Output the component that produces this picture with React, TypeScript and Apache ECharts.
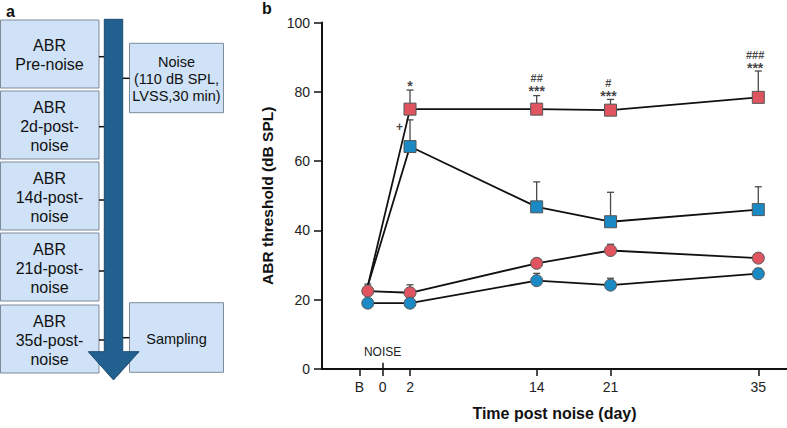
import React, { useEffect, useRef } from "react";
import * as echarts from "echarts";

// ---- data ----
const dayPositions = [-2, 2, 14, 21, 35]; // B plotted just before the noise day
const tickPositions = [-2.8, -0.6, 2, 14, 21, 35];
const tickLabels = ["B", "0", "2", "14", "21", "35"];
const noiseTickPos = -0.6;

const redCircle = [22.5, 22.0, 30.5, 34.2, 32.0];
const redCircleTop = [24.5, 24.3, 31.7, 36.0, 32.6];
const blueCircle = [19.0, 19.0, 25.5, 24.2, 27.5];
const blueCircleTop = [19.4, 19.4, 27.6, 26.2, 29.0];
const redSquare = [24.0, 75.0, 75.0, 74.7, 78.4];
const redSquareTop = [null, 80.5, 78.9, 77.8, 86.0];
const blueSquare = [24.0, 64.2, 46.8, 42.5, 46.0];
const blueSquareTop = [null, 71.9, 54.0, 51.0, 52.6];

// significance marks: x, y (centre of the mark block), hash line, star line
const annotationX = [2, 1.0, 14, 20.8, 34.7];
const annotationY = [81.8, 69.8, 81.95, 80.4, 88.5];
const annotationHash = ["", "", "##", "#", "###"];
const annotationStar = ["*", "+", "***", "***", "***"];

const FONT = '"Liberation Sans", Arial, Helvetica, sans-serif';
const RED = "#e0545f";
const BLUE = "#1b8ac4";

function buildLine(name: string, vals: number[], symbol: string, color: string) {
  return {
    name,
    type: "line",
    z: 3,
    symbol,
    symbolSize: 12,
    data: vals.map((v, i) => ({
      value: [dayPositions[i], v],
      symbolSize: symbol === "rect" && i === 0 ? 0 : 12,
    })),
    lineStyle: { color: "#111", width: 1.8 },
    itemStyle: { color, borderColor: "#555", borderWidth: 1 },
    emphasis: { disabled: true },
  };
}

function buildErr(vals: number[], tops: (number | null)[]) {
  const data: number[][] = [];
  vals.forEach((v, i) => {
    const t = tops[i];
    if (t !== null && t !== undefined) data.push([dayPositions[i], v, t]);
  });
  return {
    type: "custom",
    z: 2,
    silent: true,
    encode: { x: 0, y: [1, 2] },
    data,
    renderItem: (_p: any, api: any) => {
      const x = api.value(0);
      const p0 = api.coord([x, api.value(1)]);
      const p1 = api.coord([x, api.value(2)]);
      const st = { stroke: "#4a4a4a", lineWidth: 1.3 };
      return {
        type: "group",
        children: [
          { type: "line", shape: { x1: p0[0], y1: p0[1], x2: p1[0], y2: p1[1] }, style: st },
          { type: "line", shape: { x1: p1[0] - 3.5, y1: p1[1], x2: p1[0] + 3.5, y2: p1[1] }, style: st },
        ],
      };
    },
  };
}

function panelA(): any[] {
  const els: any[] = [];
  const boxFill = "#cfe2f7";
  const boxStroke = "#7d8b99";
  const boxes = [
    { y: 20, h: 68, t: "ABR\nPre-noise" },
    { y: 91, h: 68, t: "ABR\n2d-post-\nnoise" },
    { y: 162, h: 68, t: "ABR\n14d-post-\nnoise" },
    { y: 233, h: 68, t: "ABR\n21d-post-\nnoise" },
    { y: 305, h: 68, t: "ABR\n35d-post-\nnoise" },
  ];
  boxes.forEach((b) => {
    els.push({
      type: "rect",
      shape: { x: 0.5, y: b.y, width: 98.5, height: b.h },
      style: { fill: boxFill, stroke: boxStroke, lineWidth: 1 },
    });
    els.push({
      type: "text",
      style: {
        x: 49.5,
        y: b.y + b.h / 2 + 1,
        text: b.t,
        font: `16px ${FONT}`,
        fill: "#111",
        lineHeight: 19,
        textAlign: "center",
        textVerticalAlign: "middle",
        align: "center",
        verticalAlign: "middle",
      },
    });
  });
  const side = [
    { y: 43.3, h: 69.4, t: "Noise\n(110 dB SPL,\nLVSS,30 min)" },
    { y: 302.7, h: 69.6, t: "Sampling" },
  ];
  side.forEach((b) => {
    els.push({
      type: "rect",
      shape: { x: 129.5, y: b.y, width: 94, height: b.h },
      style: { fill: boxFill, stroke: boxStroke, lineWidth: 1 },
    });
    els.push({
      type: "text",
      style: {
        x: 176.5,
        y: b.y + b.h / 2 + 1,
        text: b.t,
        font: `14.5px ${FONT}`,
        fill: "#111",
        lineHeight: 17,
        textAlign: "center",
        textVerticalAlign: "middle",
        align: "center",
        verticalAlign: "middle",
      },
    });
  });
  [56.7, 126.7, 200, 271, 340].forEach((y) =>
    els.push({ type: "line", shape: { x1: 99, y1: y, x2: 105, y2: y }, style: { stroke: "#111", lineWidth: 1.5 } })
  );
  [78.3, 337.7].forEach((y) =>
    els.push({ type: "line", shape: { x1: 122, y1: y, x2: 129.5, y2: y }, style: { stroke: "#111", lineWidth: 1.5 } })
  );
  els.push({
    type: "polygon",
    z: 10,
    shape: {
      points: [
        [104.3, 19.3],
        [122.7, 19.3],
        [122.7, 351.7],
        [139, 351.7],
        [113.5, 380],
        [88.3, 351.7],
        [104.3, 351.7],
      ],
    },
    style: { fill: "#22608f", stroke: "#1a4b72", lineWidth: 1 },
  });
  els.push({ type: "text", style: { x: 6, y: 3, text: "a", font: `bold 16px ${FONT}`, fill: "#111" } });
  els.push({ type: "text", style: { x: 262, y: 0, text: "b", font: `bold 16px ${FONT}`, fill: "#111" } });
  return els;
}

export default function App() {
  const ref = useRef<HTMLDivElement>(null);
  useEffect(() => {
    if (!ref.current) return;
    const chart = echarts.init(ref.current, null, { renderer: "svg" });
    const labelFor = (v: number) => {
      let best = 0;
      tickPositions.forEach((t, i) => {
        if (Math.abs(t - v) < Math.abs(tickPositions[best] - v)) best = i;
      });
      return tickLabels[best];
    };
    const annData = annotationStar.map((s, i) => ({
      value: [annotationX[i], annotationY[i]],
      label: {
        formatter: annotationHash[i] ? `{h|${annotationHash[i]}}\n{s|${s}}` : s === "+" ? `{p|${s}}` : `{s|${s}}`,
      },
    }));
    const option: any = {
      animation: false,
      textStyle: { fontFamily: FONT },
      grid: { left: 322, right: 0, top: 22.5, bottom: 59, outerBoundsMode: "none", containLabel: false },
      xAxis: {
        type: "value",
        min: -6.34,
        max: 37.72,
        splitLine: { show: false },
        axisLine: { show: true, onZero: false, lineStyle: { color: "#111", width: 2 } },
        axisTick: { show: true, customValues: tickPositions, length: 7, lineStyle: { color: "#111", width: 1.5 } },
        axisLabel: {
          show: true,
          customValues: tickPositions,
          formatter: (v: number) => labelFor(v),
          fontSize: 14,
          color: "#222",
          margin: 11,
        },
        name: "Time post noise (day)",
        nameLocation: "middle",
        nameGap: 36,
        nameTextStyle: { fontSize: 16, fontWeight: "bold", color: "#111" },
      },
      yAxis: {
        type: "value",
        min: 0,
        max: 100,
        interval: 20,
        splitLine: { show: false },
        axisLine: { show: true, onZero: false, lineStyle: { color: "#111", width: 2 } },
        axisTick: { show: true, length: 8, lineStyle: { color: "#111", width: 1.5 } },
        axisLabel: { fontSize: 14, color: "#222", margin: 12 },
        name: "ABR threshold (dB SPL)",
        nameLocation: "middle",
        nameGap: 44,
        nameTextStyle: { fontSize: 15.5, fontWeight: "bold", color: "#111" },
      },
      graphic: panelA(),
      series: [
        buildErr(redCircle, redCircleTop),
        buildErr(blueCircle, blueCircleTop),
        buildErr(redSquare, redSquareTop),
        buildErr(blueSquare, blueSquareTop),
        buildLine("Noise circle", redCircle, "circle", RED),
        buildLine("Control circle", blueCircle, "circle", BLUE),
        buildLine("Noise square", redSquare, "rect", RED),
        buildLine("Control square", blueSquare, "rect", BLUE),
        {
          type: "scatter",
          z: 4,
          silent: true,
          symbolSize: 0,
          data: annData,
          label: {
            show: true,
            position: "inside",
            color: "#111",
            rich: {
              h: { fontSize: 11, fontWeight: "bold", lineHeight: 11, color: "#111", align: "center" },
              s: { fontSize: 14, fontWeight: "bold", lineHeight: 14, color: "#111", align: "center" },
              p: { fontSize: 12, fontWeight: "bold", lineHeight: 12, color: "#111", align: "center" },
            },
          },
          markLine: {
            silent: true,
            symbol: "none",
            lineStyle: { color: "#111", width: 1.5, type: "solid" },
            label: { show: true, position: "end", formatter: "NOISE", fontSize: 12, color: "#222", distance: 5 },
            data: [[{ coord: [noiseTickPos, 0] }, { coord: [noiseTickPos, 1.8] }]],
          },
        },
      ],
    };
    chart.setOption(option);
    return () => chart.dispose();
  }, []);
  return (
    <div
      ref={ref}
      style={{ position: "fixed", left: 0, top: 0, width: 787, height: 428, background: "#fff" }}
    />
  );
}
